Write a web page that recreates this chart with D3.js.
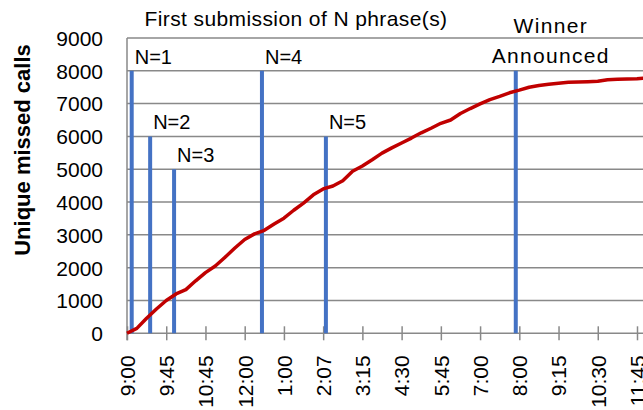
<!DOCTYPE html>
<html>
<head>
<meta charset="utf-8">
<script src="https://cdn.jsdelivr.net/npm/d3@7"></script>
<style>
  body { margin: 0; background: #fff; }
  text { font-family: "Liberation Sans", Arial, sans-serif; fill: #000; }
</style>
</head>
<body>
<svg id="chart" width="643" height="410"></svg>
<script>
// time labels shown on the category axis (one every 4 samples)
var tickLabels = ["9:00", "9:45", "10:45", "12:00", "1:00", "2:07", "3:15",
    "4:30", "5:45", "7:00", "8:00", "9:15", "10:30", "11:45"];
var samplesPerLabel = 4;

// cumulative unique missed calls, sampled along the axis
var missedCalls = [0, 150, 460, 740, 1000, 1200, 1330, 1600, 1850, 2050,
    2320, 2600, 2860, 3030, 3140, 3330, 3510, 3750, 3970, 4220,
    4400, 4490, 4650, 4940, 5100, 5290, 5490, 5650, 5800, 5950,
    6110, 6250, 6400, 6500, 6700, 6850, 6990, 7120, 7220, 7330,
    7410, 7500, 7550, 7590, 7620, 7650, 7660, 7670, 7680, 7730,
    7740, 7750, 7760, 7780];

// first submission markers (position in axis-label units)
var markerNames = ["N=1", "N=2", "N=3", "N=4", "N=5", "Winner\nAnnounced"];
var markerPos = [0.12, 0.59, 1.2, 3.44, 5.07, 9.91];
var markerHeight = [8000, 6000, 5000, 8000, 6000, 8000];

var yTicks = [0, 1000, 2000, 3000, 4000, 5000, 6000, 7000, 8000, 9000];

var svg = d3.select("#chart");
var plotLeft = 127, plotRight = 643, plotTop = 38, plotBottom = 333.3;

var x = d3.scaleLinear().domain([0, tickLabels.length - 1]).range([plotLeft, 637]);
var y = d3.scaleLinear().domain([0, 9000]).range([plotBottom, plotTop]);

svg.append("defs").append("clipPath").attr("id", "plotClip")
    .append("rect").attr("x", plotLeft - 5).attr("y", 0)
    .attr("width", plotRight - plotLeft + 5).attr("height", 410);

// gridlines
svg.append("g").selectAll("line").data(yTicks.slice(1)).join("line")
    .attr("x1", plotLeft).attr("x2", plotRight)
    .attr("y1", function(d) { return y(d); }).attr("y2", function(d) { return y(d); })
    .attr("stroke", "#898989").attr("stroke-width", 1.5);

// x axis with cross ticks
var xAxis = svg.append("g").attr("transform", "translate(0," + plotBottom + ")")
    .call(d3.axisBottom(x).tickValues(d3.range(tickLabels.length))
        .tickFormat(function(i) { return tickLabels[i]; }).tickSize(7).tickSizeOuter(0));
xAxis.select(".domain").remove();
xAxis.append("line").attr("x1", plotLeft).attr("x2", plotRight).attr("y1", 0).attr("y2", 0)
    .attr("stroke", "#898989").attr("stroke-width", 1.5);
xAxis.selectAll(".tick line").attr("y1", -7).attr("y2", 7)
    .attr("stroke", "#898989").attr("stroke-width", 1.5);
xAxis.selectAll(".tick text")
    .attr("transform", "rotate(-90)")
    .attr("text-anchor", "end")
    .attr("x", -22).attr("y", 0).attr("dy", "0.35em")
    .style("font-size", "21px").style("font-family", "Liberation Sans, Arial, sans-serif");

// y axis
var yAxis = svg.append("g").attr("transform", "translate(" + plotLeft + ",0)")
    .call(d3.axisLeft(y).tickValues(yTicks).tickSize(0).tickFormat(d3.format("d")));
yAxis.select(".domain").remove();
yAxis.append("line").attr("x1", 0).attr("x2", 0).attr("y1", plotTop).attr("y2", plotBottom + 7)
    .attr("stroke", "#898989").attr("stroke-width", 1.5);
yAxis.selectAll(".tick text").attr("x", -24).attr("dy", "0.35em")
    .style("font-size", "21px").style("font-family", "Liberation Sans, Arial, sans-serif");

// markers
var plot = svg.append("g").attr("clip-path", "url(#plotClip)");
plot.selectAll(".marker").data(markerPos).join("line")
    .attr("class", "marker")
    .attr("x1", function(d) { return x(d); }).attr("x2", function(d) { return x(d); })
    .attr("y1", plotBottom)
    .attr("y2", function(d, i) { return y(markerHeight[i]); })
    .attr("stroke", "#4472C4").attr("stroke-width", 4);

// cumulative calls line
var line = d3.line()
    .x(function(d, i) { return x(i / samplesPerLabel); })
    .y(function(d) { return y(d); });
plot.append("path").datum(missedCalls)
    .attr("d", line)
    .attr("fill", "none").attr("stroke", "#C00000").attr("stroke-width", 3.5)
    .attr("stroke-linejoin", "round");

// marker labels
markerNames.forEach(function(name, i) {
    var parts = name.split("\n");
    var bx = x(markerPos[i]), by = y(markerHeight[i]);
    if (parts.length == 1) {
        svg.append("text").attr("x", bx + 3).attr("y", by - 7)
            .style("font-size", "20px").text(name);
    } else {
        var t = svg.append("text").attr("text-anchor", "middle")
            .style("font-size", "21px").style("letter-spacing", "1.3px");
        parts.forEach(function(p, j) {
            t.append("tspan").attr("x", bx + 35)
                .attr("y", by - 8 - (parts.length - 1 - j) * 30).text(p);
        });
    }
});

// titles
svg.append("text").attr("x", 296).attr("y", 26).attr("text-anchor", "middle")
    .style("font-size", "21px").style("letter-spacing", "0.4px")
    .text("First submission of N phrase(s)");

svg.append("text").attr("transform", "translate(30,150) rotate(-90)")
    .attr("text-anchor", "middle")
    .style("font-size", "22px").style("font-weight", "bold")
    .text("Unique missed calls");
</script>
</body>
</html>
